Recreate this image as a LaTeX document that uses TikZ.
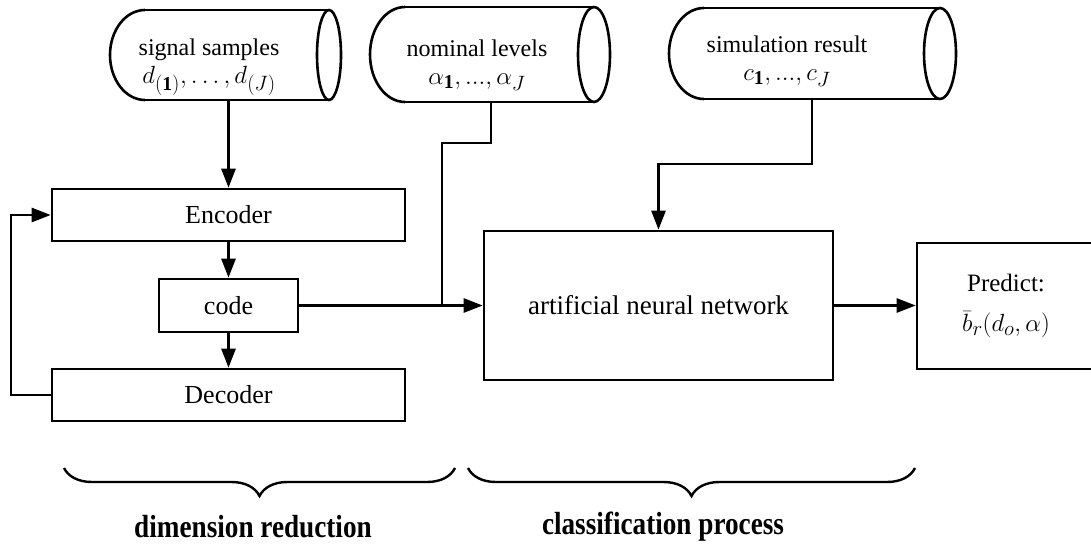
\documentclass[tikz,border=0pt]{standalone}
\usepackage{fontspec}
\setmainfont{Liberation Serif}
\usepackage{amsmath}
\usetikzlibrary{arrows.meta,decorations.pathreplacing}
\newcommand\drawcyl[5]{%
  \draw (#2,#3) -- (#1+35,#3) (#1+35,#4) -- (#2,#4);
  \draw (#1+35,#4) arc[start angle=90, end angle=270, x radius=35, y radius={(#4-#3)/2}];
  \draw (#2,{(#3+#4)/2}) ellipse[x radius=#5, y radius={(#4-#3)/2}];
}
\newcommand\mbig[1]{{\fontsize{28}{30}\selectfont$#1$}}
\begin{document}
\begin{tikzpicture}[x=1pt,y=-1pt, line width=2.6pt,
  box/.style={draw, rectangle, line width=2.6pt, inner sep=0pt, font=\fontsize{26}{30}\selectfont},
  lbl/.style={align=center, font=\fontsize{24}{29}\selectfont, inner sep=0pt},
  arr/.style={-{Triangle[length=19pt,width=14pt]}},
  brc/.style={decorate, decoration={brace, mirror, amplitude=28pt}, line width=2.4pt},
  btxt/.style={font=\fontsize{32}{34}\selectfont\bfseries, inner sep=0pt}]
\useasboundingbox (0,0) rectangle (1091,543);

% cylinders (data sources)
\drawcyl{110}{329}{10}{100}{12}
\drawcyl{370}{594}{7}{102}{16}
\drawcyl{669}{940}{8}{99}{16}
\node[lbl] (s1) at (209,67) {signal samples\\[-1pt] \mbig{d_{(\mathbf{1})},\ldots,d_{(J)}}};
\node[lbl] (s2) at (477,65) {nominal levels\\[-1pt] \mbig{\alpha_{\mathbf{1}},...,\alpha_J}};
\node[lbl] (s3) at (787,61) {simulation result\\[-1pt] \mbig{c_{\mathbf{1}},...,c_J}};
\coordinate (s1b) at (228.5,100);
\coordinate (s2b) at (491,102);
\coordinate (s3b) at (812,99);

% boxes
\node[box, minimum width=353pt, minimum height=52pt] (enc) at (228.5,215) {Encoder};
\node[box, minimum width=139pt, minimum height=53pt] (code) at (228.5,305.5) {code};
\node[box, minimum width=353pt, minimum height=52pt] (dec) at (228.5,395) {Decoder};
\node[box, minimum width=349pt, minimum height=149pt, font=\fontsize{27}{30}\selectfont] (ann) at (658.5,305.5) {artificial neural network};
\node[box, minimum width=188pt, minimum height=126pt, align=center, font=\fontsize{25}{31}\selectfont] (pred) at (1011,306)
  {\hspace*{-10pt}Predict:\\[9pt] \hspace*{-10pt}\mbig{\bar{b}_r(d_o,\alpha)}};

% connectors
\coordinate (fb) at (11,0);
\coordinate (k2) at (442,143);
\coordinate (k3) at (658.5,164);
\draw[arr] (s1b) -- (enc.north);
\draw[arr] (enc.south) -- (code.north);
\draw[arr] (code.south) -- (dec.north);
\draw[arr] (dec.west) -- (dec.west -| fb) |- (enc.west);
\draw[arr] (code.east) -- (ann.west);
\draw (s2b) |- (k2) -- (k2 |- code.east);
\draw[arr] (s3b) |- (k3) -- (ann.north);
\draw[arr] (ann.east) -- (ann.east -| pred.west);

% braces
\coordinate (b1a) at (64,468);
\coordinate (b1b) at (455,468);
\coordinate (b2a) at (468,468);
\coordinate (b2b) at (915,468);
\draw[brc] (b1a) -- (b1b);
\draw[brc] (b2a) -- (b2b);
\node[btxt] (t1) at (253,527) {\scalebox{0.85}[1]{dimension reduction}};
\node[btxt] (t2) at (663,527) {\scalebox{0.85}[1]{classification process}};
\end{tikzpicture}
\end{document}
